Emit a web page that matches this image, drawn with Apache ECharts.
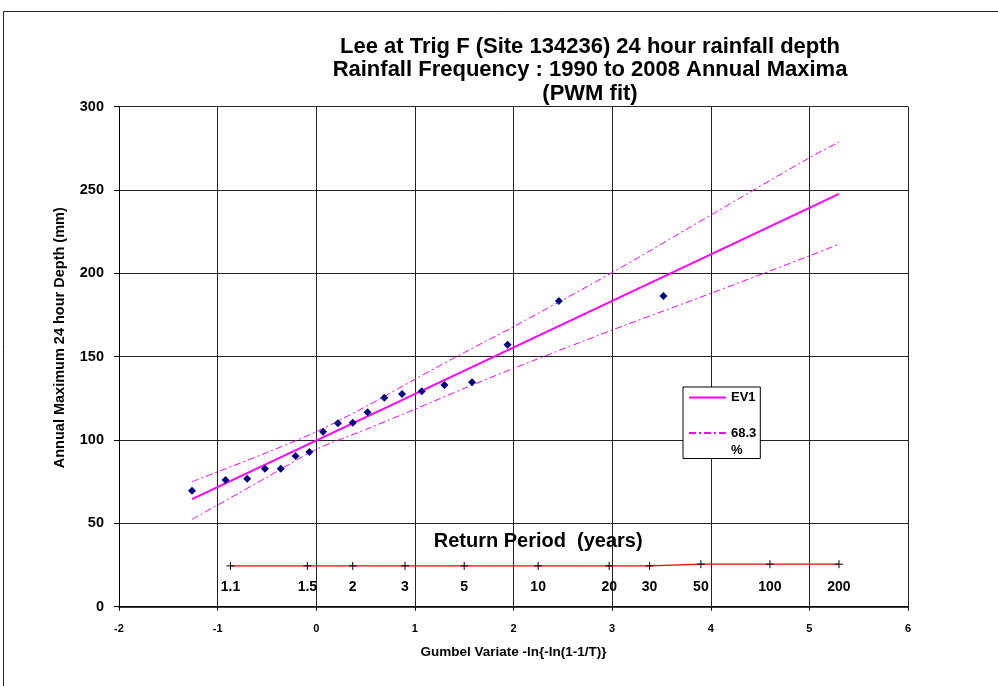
<!DOCTYPE html>
<html>
<head>
<meta charset="utf-8">
<script src="https://cdn.jsdelivr.net/npm/echarts@6/dist/echarts.min.js"></script>
<style>
  html, body { margin: 0; padding: 0; background: #fff; }
  #chart { width: 998px; height: 686px; }
</style>
</head>
<body>
<div id="chart"></div>
<script>
// Annual maxima, Gumbel reduced variate (Gringorten positions) and depth (mm)
const gumbelX = [-1.26, -0.92, -0.70, -0.52, -0.36, -0.21, -0.07, 0.07, 0.22, 0.37,
                 0.52, 0.69, 0.87, 1.07, 1.30, 1.58, 1.94, 2.46, 3.52];
const depth   = [69.6, 76.0, 76.8, 82.8, 82.8, 90.4, 92.8, 105.0, 110.0, 110.4,
                 116.6, 125.4, 127.6, 129.2, 133.0, 134.6, 157.2, 183.4, 186.4];

// EV1 (PWM) fitted line
const fitX = [-1.26, 5.30];
const fitY = [64.6, 247.7];

// 68.3 % confidence band
const bandX = [-1.26, -0.5, 0, 0.5, 1, 1.5, 2, 3, 4, 5, 5.3];
const bandUpper = [75.0, 92.5, 105.0, 120.0, 136.5, 152.5, 168.0, 200.5, 235.0, 269.4, 278.8];
const bandLower = [52.4, 77.7, 94.4, 106.3, 118.5, 131.0, 143.0, 166.0, 188.0, 210.5, 217.6];

// Return period scale drawn inside the plot
const rpLabels = ['1.1', '1.5', '2', '3', '5', '10', '20', '30', '50', '100', '200'];
const rpX = [-0.87, -0.09, 0.37, 0.90, 1.50, 2.25, 2.97, 3.38, 3.90, 4.60, 5.30];
const rpY = [24.5, 24.5, 24.5, 24.5, 24.5, 24.5, 24.5, 24.5, 25.5, 25.5, 25.5];
const rpLabelLevel = 11.5;   // all return-period labels share one baseline
const rpTitle = 'Return Period  (years)';
const rpTitlePos = [2.25, 39.2];

const yTicks = { min: 0, max: 300, interval: 50 };
const xTicks = { min: -2, max: 6, interval: 1 };

const pairs = (xs, ys) => xs.map((x, i) => [x, ys[i]]);
const FONT = 'Liberation Sans, Arial, sans-serif';
const MAGENTA = '#FF00FF';
const BAND_NAME = '68.3\n%';

const chart = echarts.init(document.getElementById('chart'), null, { renderer: 'canvas' });

chart.setOption({
  animation: false,
  backgroundColor: '#fff',
  textStyle: { fontFamily: FONT },
  title: {
    text: 'Lee at Trig F (Site 134236) 24 hour rainfall depth\nRainfall Frequency : 1990 to 2008 Annual Maxima\n(PWM fit)',
    left: 590,
    top: 35,
    textAlign: 'center',
    padding: 0,
    textStyle: { fontFamily: FONT, fontSize: 22, fontWeight: 'bold', color: '#000', lineHeight: 23.5 }
  },
  graphic: [{
    type: 'rect',
    shape: { x: 3.5, y: 11.5, width: 1200, height: 900 },
    style: { fill: 'none', stroke: '#222', lineWidth: 1 },
    silent: true, z: -1
  }],
  legend: {
    orient: 'vertical',
    left: 683,
    top: 387,
    padding: [2, 4, 0, 5],
    itemWidth: 37,
    itemHeight: 14,
    itemGap: 1.5,
    textGap: 5,
    borderColor: '#000',
    borderWidth: 1,
    backgroundColor: '#fff',
    itemStyle: { opacity: 0 },
    formatter: name => (name === BAND_NAME ? '\n' + name : name),
    textStyle: { fontFamily: FONT, fontSize: 13, fontWeight: 'bold', color: '#000', lineHeight: 17 },
    data: ['EV1', BAND_NAME]
  },
  grid: { left: 119, right: 90, top: 106.7, bottom: 79.3, containLabel: false },
  xAxis: {
    type: 'value',
    min: xTicks.min, max: xTicks.max, interval: xTicks.interval,
    name: 'Gumbel Variate -ln{-ln(1-1/T)}',
    nameLocation: 'middle',
    nameGap: 39,
    nameTextStyle: { fontFamily: FONT, fontSize: 13.5, fontWeight: 'bold', color: '#000' },
    axisLine: { show: true, onZero: false, lineStyle: { color: '#000', width: 1.5 } },
    axisTick: { show: true, length: 4, lineStyle: { color: '#000' } },
    axisLabel: { margin: 17, fontFamily: FONT, fontSize: 11, fontWeight: 'bold', color: '#000' },
    splitLine: { show: true, lineStyle: { color: '#222', width: 1 } }
  },
  yAxis: {
    type: 'value',
    min: yTicks.min, max: yTicks.max, interval: yTicks.interval,
    name: 'Annual Maximum 24 hour Depth (mm)',
    nameLocation: 'middle',
    nameGap: 52,
    nameTextStyle: { fontFamily: FONT, fontSize: 14.5, fontWeight: 'bold', color: '#000', padding: [0, 0, 0, 38] },
    axisLine: { show: true, onZero: false, lineStyle: { color: '#000', width: 1 } },
    axisTick: { show: true, length: 5, lineStyle: { color: '#000' } },
    axisLabel: { margin: 15, fontFamily: FONT, fontSize: 14.5, fontWeight: 'bold', color: '#000' },
    splitLine: { show: true, lineStyle: { color: '#222', width: 1 } }
  },
  series: [
    {
      name: 'EV1',
      type: 'line',
      data: pairs(fitX, fitY),
      symbol: 'none',
      lineStyle: { color: MAGENTA, width: 2 },
      itemStyle: { color: MAGENTA },
      z: 3
    },
    {
      name: BAND_NAME,
      type: 'line',
      data: pairs(bandX, bandUpper),
      symbol: 'none',
      smooth: 0.3,
      lineStyle: { color: MAGENTA, width: 1, type: [7, 3, 2, 3] },
      itemStyle: { color: MAGENTA },
      z: 3
    },
    {
      name: BAND_NAME,
      type: 'line',
      data: pairs(bandX, bandLower),
      symbol: 'none',
      smooth: 0.3,
      lineStyle: { color: MAGENTA, width: 1, type: [7, 3, 2, 3] },
      itemStyle: { color: MAGENTA },
      z: 3
    },
    {
      name: 'Annual maxima',
      type: 'scatter',
      data: pairs(gumbelX, depth),
      symbol: 'diamond',
      symbolSize: 8,
      itemStyle: { color: '#000080', opacity: 1 },
      z: 4
    },
    {
      name: 'Return period',
      type: 'line',
      data: pairs(rpX, rpY),
      symbol: 'path://M0,-5L0,5M-5,0L5,0',
      symbolSize: 8,
      showSymbol: true,
      lineStyle: { color: '#FF0000', width: 1.2 },
      itemStyle: { color: '#000', borderColor: '#000', borderWidth: 1 },
      z: 2
    },
    {
      // return-period labels placed on a common level under each marker
      name: 'Return period labels',
      type: 'scatter',
      data: rpX.map(x => [x, rpLabelLevel]),
      symbolSize: 0,
      itemStyle: { opacity: 1 },
      label: {
        show: true,
        position: 'inside',
        formatter: p => rpLabels[p.dataIndex],
        fontFamily: FONT, fontSize: 14, fontWeight: 'bold', color: '#000'
      },
      silent: true,
      z: 2
    },
    {
      name: 'Return period title',
      type: 'scatter',
      data: [rpTitlePos],
      symbolSize: 0,
      itemStyle: { opacity: 1 },
      label: {
        show: true,
        position: 'inside',
        formatter: rpTitle,
        fontFamily: FONT, fontSize: 20, fontWeight: 'bold', color: '#000'
      },
      silent: true,
      z: 2
    }
  ]
});
</script>
</body>
</html>
